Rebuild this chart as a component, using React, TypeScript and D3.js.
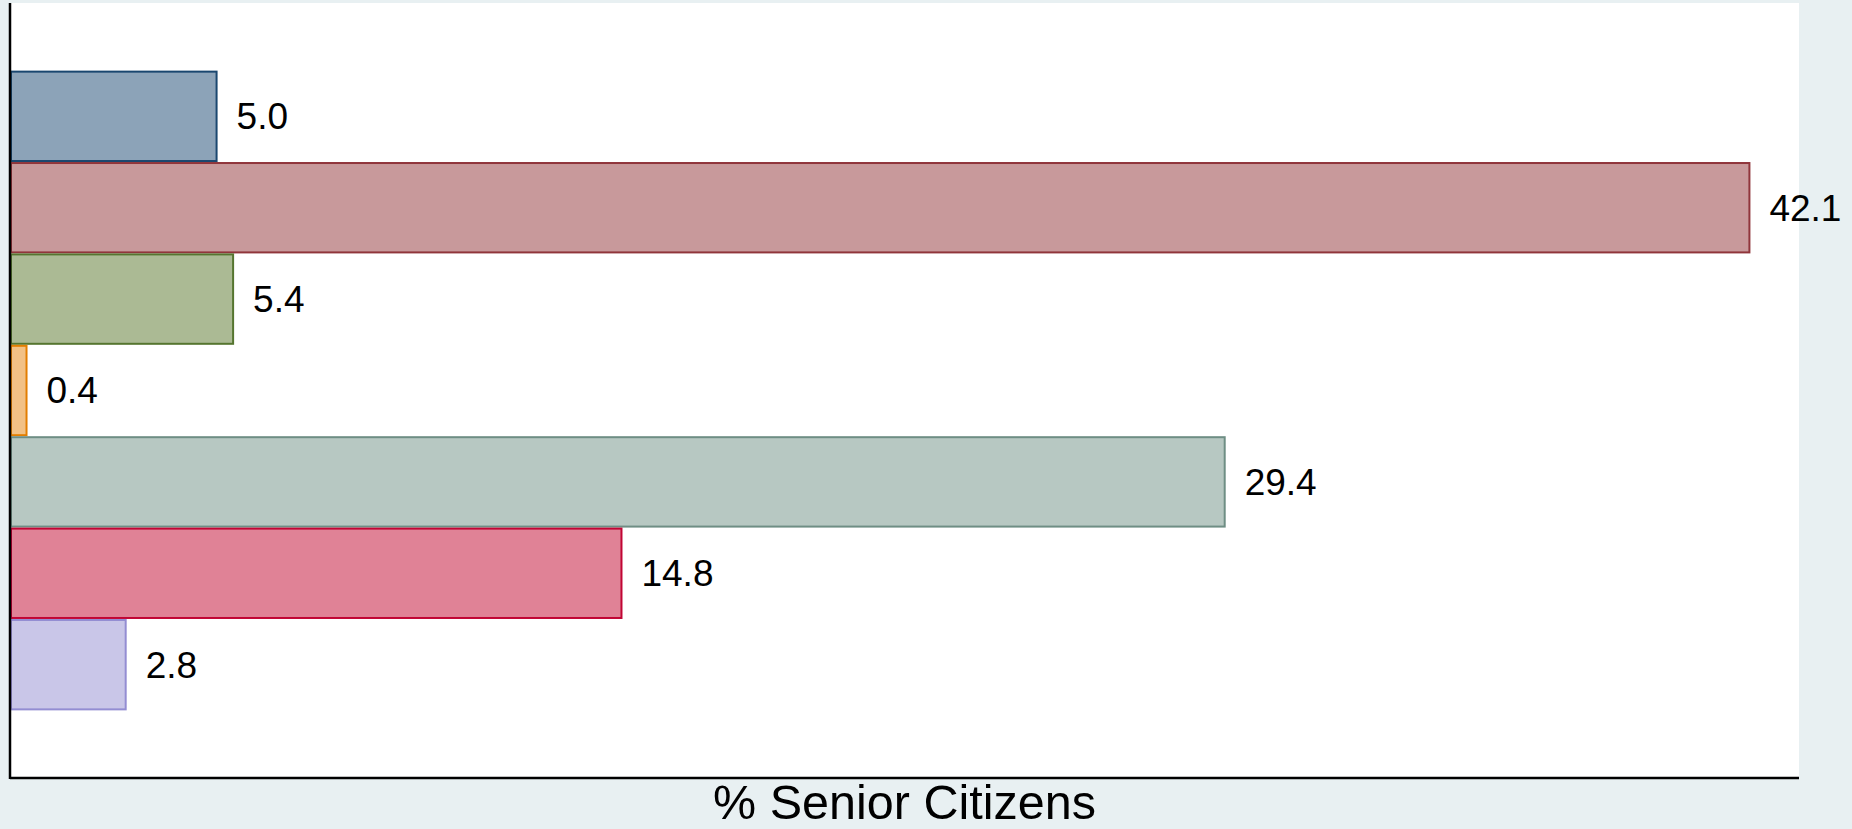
import React from "react"
import * as d3 from "d3"

// one bar per group, no legend in the picture
const groups = ["g1", "g2", "g3", "g4", "g5", "g6", "g7"]
const values = [5.0, 42.1, 5.4, 0.4, 29.4, 14.8, 2.8]
const fills = ["#8ca3b8", "#c8999b", "#abba94", "#f2c185", "#b7c8c2", "#e08296", "#c9c6e8"]
const strokes = ["#1a476f", "#90353b", "#55752f", "#e37e00", "#6e8e84", "#c10534", "#938dd2"]
const xMax = 43.3
const axisTitle = "% Senior Citizens"

const width = 1852
const height = 829

function App() {
    const [left, top, right, bottom] = [10, 3, 1799, 778]

    const x = d3.scaleLinear().domain([0, xMax]).range([left, right])
    const y = d3.scaleBand<string>()
        .domain(groups)
        .range([top, bottom])
        .paddingInner(0)
        .paddingOuter(0.74)

    const font = "Liberation Sans, Arial, Helvetica, sans-serif"

    return (
        <svg width={width} height={height}
            style={{ position: "absolute", left: 0, top: 0, display: "block" }}>
            <rect x={0} y={0} width={width} height={height} fill="#e8f0f2" />
            <rect x={left} y={top} width={right - left} height={bottom - top} fill="#ffffff" />

            {groups.map((g, i) => (
                <g key={g}>
                    <rect
                        x={x(0) + 1}
                        y={(y(g) as number) + 1}
                        width={Math.max(x(values[i]) - x(0) - 1, 1)}
                        height={y.bandwidth() - 2}
                        fill={fills[i]}
                        stroke={strokes[i]}
                        strokeWidth={2}
                    />
                    <text
                        x={x(values[i]) + 20}
                        y={(y(g) as number) + y.bandwidth() / 2}
                        dy="0.35em"
                        fontFamily={font}
                        fontSize={37}
                        fill="#000"
                    >
                        {values[i].toFixed(1)}
                    </text>
                </g>
            ))}

            {/* axes */}
            <line x1={left} y1={top} x2={left} y2={bottom + 1} stroke="#000" strokeWidth={2.5} />
            <line x1={left} y1={bottom} x2={right} y2={bottom} stroke="#000" strokeWidth={2.5} />

            <text
                x={(left + right) / 2}
                y={819}
                textAnchor="middle"
                fontFamily={font}
                fontSize={48.5}
                fill="#000"
            >
                {axisTitle}
            </text>
        </svg>
    )
}

export default App
